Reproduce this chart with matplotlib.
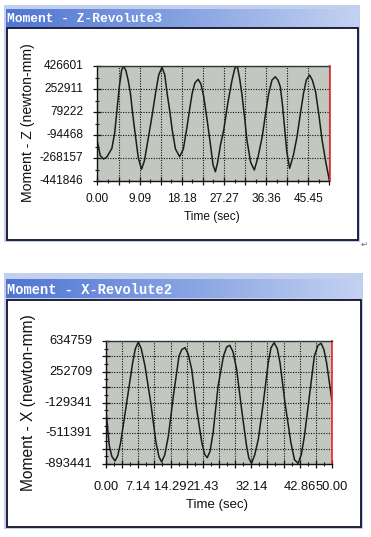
import numpy as np
import matplotlib
matplotlib.use("Agg")
import matplotlib.pyplot as plt
from matplotlib.patches import Rectangle
from matplotlib.colors import LinearSegmentedColormap

# ---------------- data ----------------
z_time = [0.0, 0.6, 1.3, 2.0, 2.6, 3.1, 3.7, 4.2, 4.7, 5.2, 5.6, 6.1, 6.6, 7.1, 7.6,
          8.2, 8.8, 9.5, 10.1, 11.0, 11.8, 12.5, 13.2, 13.9, 14.5, 15.0, 15.6, 16.1,
          16.8, 17.7, 18.5, 19.3, 19.9, 20.4, 21.0, 21.7, 22.3, 22.9, 23.7, 24.4,
          24.9, 25.4, 25.9, 26.5, 27.2, 28.1, 29.0, 29.6, 30.1, 30.6, 31.1, 31.7,
          32.2, 33.0, 33.8, 34.6, 35.5, 36.2, 36.9, 37.6, 38.3, 38.9, 39.4, 39.9,
          40.3, 40.8, 41.4, 42.2, 43.0, 43.7, 44.4, 45.0, 45.7, 46.3, 47.0, 47.7,
          48.4, 49.2, 50.0]
z_moment = [-150000, -250000, -276000, -262000, -225000, -195000, -80000, 94000,
            270000, 395000, 426000, 395000, 320000, 220000, 60000, -107000, -270000,
            -353000, -290000, -107000, 60000, 220000, 360000, 417000, 360000, 220000,
            80000, -57000, -200000, -258000, -200000, -32000, 110000, 220000, 300000,
            326000, 290000, 195000, 0, -183000, -320000, -372000, -300000, -170000,
            -57000, 150000, 321000, 410000, 430000, 340000, 220000, 40000, -132000,
            -300000, -359000, -260000, -107000, 60000, 220000, 320000, 345000, 320000,
            270000, 120000, -32000, -220000, -346000, -250000, -107000, 60000, 220000,
            320000, 359000, 320000, 233000, 60000, -132000, -300000, -441000]

x_time = [0.0, 0.74, 1.3, 2.0, 2.6, 3.24, 4.57, 5.9, 6.5, 7.15, 7.8, 8.63, 9.9, 11.06,
          11.7, 12.3, 13.0, 13.8, 14.9, 16.15, 16.8, 17.5, 18.2, 18.96, 20.06, 21.2,
          21.8, 22.4, 23.0, 23.7, 24.8, 26.0, 26.7, 27.4, 28.1, 28.9, 30.0, 31.1,
          31.6, 32.2, 32.9, 33.7, 34.8, 35.9, 36.5, 37.2, 37.9, 38.5, 39.6, 40.9,
          41.7, 42.5, 43.2, 43.9, 45.0, 46.1, 46.9, 47.6, 48.2, 48.8, 50.0]
x_moment = [-235000, -670000, -800000, -856000, -790000, -628000, -132000, 365000,
            540000, 622000, 540000, 324000, -132000, -628000, -800000, -868000,
            -780000, -546000, -49000, 448000, 530000, 552000, 470000, 283000, -214000,
            -628000, -770000, -815000, -740000, -505000, 76000, 450000, 560000, 581000,
            500000, 283000, -214000, -670000, -820000, -885000, -780000, -586000,
            -132000, 365000, 550000, 614000, 540000, 365000, -132000, -628000, -840000,
            -885000, -780000, -546000, -49000, 448000, 580000, 606000, 530000, 365000,
            -111000]

z_title = "Moment - Z-Revolute3"
x_title = "Moment - X-Revolute2"
z_ylabel = "Moment - Z (newton-mm)"
x_ylabel = "Moment - X (newton-mm)"
xlabel = "Time (sec)"

z_xtick_labels = ["0.00", "9.09", "18.18", "27.27", "36.36", "45.45"]
z_ytick_labels = ["426601", "252911", "79222", "-94468", "-268157", "-441846"]
x_xtick_labels = ["0.00", "7.14", "14.29", "21.43", "32.14", "42.86", "50.00"]
x_ytick_labels = ["634759", "252709", "-129341", "-511391", "-893441"]

# ---------------- figure ----------------
W, H = 371, 537
fig = plt.figure(figsize=(W / 100, H / 100), dpi=100)
fig.patch.set_facecolor("white")
SANS = ["Liberation Sans", "DejaVu Sans"]


def fr(x, y, w, h):
    return [x / W, 1 - (y + h) / H, w / W, h / H]


def rect(x, y, w, h, z, **kw):
    fig.patches.append(Rectangle((x / W, 1 - (y + h) / H), w / W, h / H,
                                 transform=fig.transFigure, zorder=z, **kw))


grad_cmap = LinearSegmentedColormap.from_list("tb", ["#4f76d2", "#86a2e2", "#c3d2f2"])


def window(x0, y0, x1, y1, tb0, tb1, inner0, title, tfs):
    rect(x0, y0, x1 - x0, y1 - y0, -3, facecolor="#c2d0ee", edgecolor="none")
    rect(x0 + 3, inner0, x1 - x0 - 5, y1 - inner0 - 2, -2, facecolor="white",
         edgecolor="#10102a", linewidth=1.3)
    tb = fig.add_axes(fr(x0 + 2, tb0, x1 - x0 - 4, tb1 - tb0))
    tb.imshow(np.linspace(0, 1, 256)[None, :], aspect="auto", cmap=grad_cmap,
              extent=[0, 1, 0, 1])
    tb.set_axis_off()
    tb.text(0.004, 0.42, title, color="white", fontsize=tfs, fontweight="bold",
            family=["Liberation Mono", "DejaVu Sans Mono"], ha="left", va="center",
            transform=tb.transAxes)


def style_axes(ax, xlim, ylim, xgrid, ygrid, xminor, yminor, xtick_vals, xtick_labels,
               ytick_vals, ytick_labels, fs, xpad, ypad):
    ax.set_facecolor("#c2c8c0")
    ax.set_xlim(*xlim)
    ax.set_ylim(*ylim)
    ax.set_xticks(xgrid)
    ax.set_xticklabels([""] * len(xgrid))
    ax.set_yticks(ygrid)
    ax.set_yticklabels([""] * len(ygrid))
    ax.set_xticks(xminor, minor=True)
    ax.set_yticks(yminor, minor=True)
    ax.grid(True, which="major", color="#111111", linestyle=(0, (1, 1.3)), linewidth=0.8)
    ax.tick_params(which="major", direction="inout", length=6, width=0.9, color="#111111")
    ax.tick_params(which="minor", direction="inout", length=3.5, width=0.8, color="#111111")
    for s in ["left", "bottom", "top"]:
        ax.spines[s].set_color("#111111")
        ax.spines[s].set_linewidth(1.0)
    ax.spines["top"].set_color("#333333")
    ax.spines["right"].set_color("#e8262b")
    ax.spines["right"].set_linewidth(1.2)
    ax.set_axisbelow(True)
    for v, lab in zip(xtick_vals, xtick_labels):
        ax.annotate(lab, (v, 0), xycoords=("data", "axes fraction"),
                    xytext=(0, -xpad), textcoords="offset points", ha="center",
                    va="top", fontsize=fs, family=SANS, color="#111111",
                    annotation_clip=False)
    for v, lab in zip(ytick_vals, ytick_labels):
        ax.annotate(lab, (0, v), xycoords=("axes fraction", "data"),
                    xytext=(-ypad, 0), textcoords="offset points", ha="right",
                    va="center", fontsize=fs, family=SANS, color="#111111",
                    annotation_clip=False)


# ---------- top window ----------
window(4, 5, 360, 242, 9, 27, 28, z_title, 9.3)
ax1 = fig.add_axes(fr(97.5, 66, 232, 115))
ax1.plot(z_time, z_moment, color="#1c1c1c", linewidth=1.1, clip_on=True)
zy = [float(s) for s in z_ytick_labels]
zymin, zymax = min(zy), max(zy)
zstep = (zymax - zymin) / (len(zy) - 1)
zxv = [float(s) for s in z_xtick_labels]
zxstep = (zxv[1] - zxv[0]) / 2
zxgrid = np.arange(0, 50.001, zxstep)
style_axes(ax1, (0, 50), (zymin, zymax), zxgrid, zy,
           zxgrid[:-1] + zxstep / 2, np.array(zy[1:]) + zstep / 2,
           zxv, z_xtick_labels, zy, z_ytick_labels, 8.6, 9, 10)
ax1.text(-0.30, 0.51, z_ylabel, rotation=90, transform=ax1.transAxes, ha="center",
         va="center", fontsize=10.1, family=SANS, color="#111111")
ax1.text(0.4935, -0.313, xlabel, transform=ax1.transAxes, ha="center", va="center",
         fontsize=8.6, family=SANS, color="#111111")

# ---------- bottom window ----------
window(4, 273, 363, 529, 279, 298, 300, x_title, 9.9)
ax2 = fig.add_axes(fr(106, 341, 226, 123))
ax2.plot(x_time, x_moment, color="#1c1c1c", linewidth=1.1, clip_on=True)
xy = [float(s) for s in x_ytick_labels]
xymin, xymax = min(xy), max(xy)
xystep = (xymax - xymin) / (len(xy) - 1) / 2
xygrid = np.arange(xymin, xymax + 1, xystep)
xxv = [float(s) for s in x_xtick_labels]
xxstep = xxv[1] / 2
xxgrid = np.arange(0, 50.001, xxstep)
style_axes(ax2, (0, 50), (xymin, xymax), xxgrid, xygrid,
           xxgrid[:-1] + xxstep / 2, xygrid[:-1] + xystep / 2,
           xxv, x_xtick_labels, xy, x_ytick_labels, 9.3, 12, 10)
ax2.text(-0.345, 0.496, x_ylabel, rotation=90, transform=ax2.transAxes, ha="center",
         va="center", fontsize=11.2, family=SANS, color="#111111")
ax2.text(0.491, -0.333, xlabel, transform=ax2.transAxes, ha="center", va="center",
         fontsize=9.5, family=SANS, color="#111111")

fig.text(364 / W, 1 - 244 / H, "\u21b5", fontsize=6, color="#666666",
         family=["DejaVu Sans"], ha="center", va="center")

fig.savefig("out.png", dpi=100, facecolor="white")
